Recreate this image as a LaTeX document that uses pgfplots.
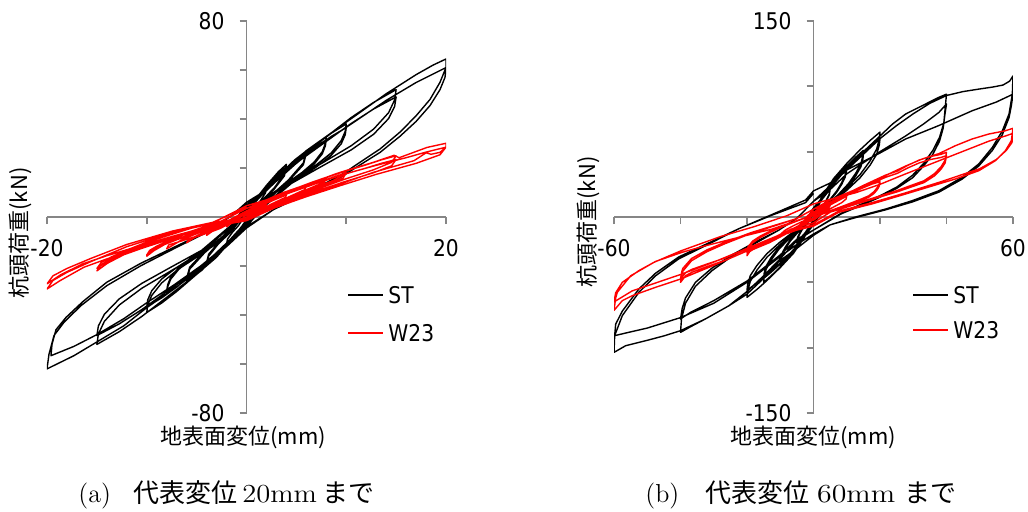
\documentclass[border=0pt]{standalone}
\usepackage{fontspec}
\usepackage{graphicx}
\usepackage{pgfplots}
\pgfplotsset{compat=1.18}
\newfontfamily\tickfont[FakeStretch=0.88]{DejaVu Sans}
\newfontfamily\jp{Noto Sans CJK JP}
\definecolor{axisgray}{HTML}{868686}
\definecolor{w23red}{HTML}{FF0000}

% legend key: a short rule in the series colour, followed by the name
\newcommand\keyline[1]{\textcolor{#1}{\rule[0.33em]{17.5pt}{0.7pt}}\hspace{2.5pt}}

\pgfplotsset{
  hyst/.style={
    scale only axis, width=199.5pt, height=196pt,
    axis lines=middle,
    axis line style={draw=axisgray, line width=0.9pt, -},
    every inner x axis line/.append style={-},
    every inner y axis line/.append style={-},
    tick style={draw=axisgray, line width=0.9pt},
    tick align=outside,
    major tick length=3.5pt,
    ticklabel style={font=\fontsize{11.5}{13}\tickfont, text=black},
    yticklabel style={anchor=east, xshift=-4pt},
    xticklabel style={anchor=north, yshift=-4pt},
  },
}

\begin{document}
\begin{tikzpicture}[x=1pt, y=1pt]
\useasboundingbox (0,0) rectangle (514,255.5);

% (a) cycles up to 20 mm
\begin{axis}[hyst, at={(23.5pt,49pt)}, anchor=south west,
  xmin=-20, xmax=20, ymin=-80, ymax=80,
  xtick={-20,-10,10,20}, xticklabels={-20,,,20},
  ytick={-80,-60,-40,-20,20,40,60,80}, yticklabels={-80,,,,,,,80}]
\addplot[black, line width=0.7pt, line join=round] coordinates {
(0,0)
(0.4,3.7) (1.0,7.2) (1.6,10.3) (2,12) (1.9,9.8) (1.4,6.7) (0.8,3.8) (0,-1) (-0.4,-3.4) (-1.0,-6.6) (-1.6,-9.5) (-2,-11) (-1.9,-9.0) (-1.4,-6.2) (-0.8,-3.5) (0,1.5)
(0.8,6.7) (2,12.9) (3.2,18.5) (4,21.5) (3.8,17.6) (2.8,12.0) (1.6,6.9) (0,-1.5) (-0.8,-6.0) (-2,-11.7) (-3.2,-16.8) (-4,-19.5) (-3.8,-16.0) (-2.8,-10.9) (-1.6,-6.2) (0,2)
(0.8,6.4) (2,12.3) (3.2,17.6) (4,20.5) (3.8,16.8) (2.8,11.5) (1.6,6.6) (0,-1.5) (-0.8,-5.7) (-2,-11.1) (-3.2,-15.9) (-4,-18.5) (-3.8,-15.2) (-2.8,-10.4) (-1.6,-5.9) (0,2)
(1.2,8.4) (3,16.2) (4.8,23.2) (6,27) (5.7,22.1) (4.2,15.1) (2.4,8.6) (0,-2) (-1.2,-8.1) (-3,-15.6) (-4.8,-22.4) (-6,-26) (-5.7,-21.3) (-4.2,-14.6) (-2.4,-8.3) (0,2.5)
(1.2,8.1) (3,15.6) (4.8,22.4) (6,26) (5.7,21.3) (4.2,14.6) (2.4,8.3) (0,-2) (-1.2,-7.8) (-3,-15) (-4.8,-21.5) (-6,-25) (-5.7,-20.5) (-4.2,-14.0) (-2.4,-8.0) (0,2.5)
(0.8,5.9) (2.4,13.7) (4,19.6) (5.6,25.4) (6.8,29.3) (8,32.6) (7.9,30.0) (7.6,26.7) (6.8,22.5) (5.6,18.3) (4,13.7) (2.4,9.1) (0.8,2.5) (0,-2.5) (-0.8,-5.6) (-2.4,-13.0) (-4,-18.6) (-5.6,-24.2) (-6.8,-27.9) (-8,-31) (-7.9,-28.5) (-7.6,-25.4) (-6.8,-21.4) (-5.6,-17.4) (-4,-13.0) (-2.4,-8.7) (-0.8,-2) (0,3.5)
(0.8,5.7) (2.4,13.2) (4,18.9) (5.6,24.6) (6.8,28.4) (8,31.5) (7.9,29.0) (7.6,25.8) (6.8,21.7) (5.6,17.6) (4,13.2) (2.4,8.8) (0.8,2.4) (0,-2.5) (-0.8,-5.4) (-2.4,-12.6) (-4,-18) (-5.6,-23.4) (-6.8,-27) (-8,-30) (-7.9,-27.6) (-7.6,-24.6) (-6.8,-20.7) (-5.6,-16.8) (-4,-12.6) (-2.4,-8.4) (-0.8,-2) (0,3.5)
(1,6.8) (3,16.0) (5,22.8) (7,29.6) (8.5,34.2) (10,38) (9.9,35.0) (9.5,31.2) (8.5,26.2) (7,21.3) (5,16.0) (3,10.6) (1,2.5) (0,-3) (-1,-7.0) (-3,-16.4) (-5,-23.4) (-7,-30.4) (-8.5,-35.1) (-10,-39) (-9.9,-35.9) (-9.5,-32.0) (-8.5,-26.9) (-7,-21.8) (-5,-16.4) (-3,-10.9) (-1,-2.5) (0,4)
(1,6.6) (3,15.3) (5,21.9) (7,28.5) (8.5,32.9) (10,36.5) (9.9,33.6) (9.5,29.9) (8.5,25.2) (7,20.4) (5,15.3) (3,10.2) (1,2.4) (0,-3) (-1,-6.6) (-3,-15.4) (-5,-22.0) (-7,-28.6) (-8.5,-33.0) (-10,-36.7) (-9.9,-33.8) (-9.5,-30.1) (-8.5,-25.3) (-7,-20.6) (-5,-15.4) (-3,-10.3) (-1,-2.4) (0,4)
(1.5,9.4) (4.5,21.8) (7.5,31.2) (10.5,40.6) (12.75,46.8) (15,52) (14.85,47.8) (14.25,42.6) (12.75,35.9) (10.5,29.1) (7.5,21.8) (4.5,14.6) (1.5,3.5) (0,-4) (-1.5,-9.4) (-4.5,-21.8) (-7.5,-31.2) (-10.5,-40.6) (-12.75,-46.8) (-15,-52) (-14.85,-47.8) (-14.25,-42.6) (-12.75,-35.9) (-10.5,-29.1) (-7.5,-21.8) (-4.5,-14.6) (-1.5,-3.5) (0,5)
(1.5,8.8) (4.5,20.6) (7.5,29.4) (10.5,38.2) (12.75,44.1) (15,49) (14.85,45.1) (14.25,40.2) (12.75,33.8) (10.5,27.4) (7.5,20.6) (4.5,13.7) (1.5,3.3) (0,-4) (-1.5,-8.7) (-4.5,-20.3) (-7.5,-29.0) (-10.5,-37.8) (-12.75,-43.6) (-15,-48.4) (-14.85,-44.5) (-14.25,-39.7) (-12.75,-33.4) (-10.5,-27.1) (-7.5,-20.3) (-4.5,-13.6) (-1.5,-3.2) (0,5)
(2,11.6) (6,27.1) (10,38.7) (14,50.3) (17,58.1) (18.7,62) (20,64.5) (20,61) (19.4,55) (18.4,48) (17,41.3) (15.4,34.7) (13.4,27.8) (11.4,22.4) (9.4,16.9) (7.4,12.8) (5.4,8.7) (2.7,3) (0,-4.5) (-1.9,-11.7) (-4.6,-21.2) (-7.3,-29.4) (-10,-37) (-12.3,-44.4) (-15,-51) (-17.3,-56.6) (-20,-62) (-19.8,-56) (-19.3,-48.4) (-18.3,-43) (-16.6,-36.2) (-14,-28) (-10.6,-19.9) (-7.3,-13) (-4,-6.3) (-1.5,0.5) (0,6)
(2,11.0) (6,25.6) (10,36.6) (14,47.6) (17,54.9) (20,61) (19.9,57) (19.4,52) (18.4,45.5) (17,39) (15.4,33) (13.4,26.4) (11.4,21.3) (9.4,16.1) (7.4,12.2) (5.4,8.3) (2.7,3) (0,-4) (-1.9,-11) (-4.6,-20) (-7.3,-27.8) (-10,-35) (-12.3,-41.5) (-15,-48) (-17.3,-52.8) (-19.6,-56.6) (-19.5,-52) (-19.1,-46) (-18.1,-41) (-16.4,-34.5) (-14,-26.6) (-10.6,-18.9) (-7.3,-12.4) (-4,-6) (-1.5,0.5) (0,5.5)
};
\addplot[w23red, line width=0.7pt, line join=round] coordinates {
(0,0)
(0.4,1.7) (1,3.1) (1.6,4.3) (2,5) (1.9,4.4) (1.3,3.1) (0.6,1.5) (0,-0.3) (-0.4,-0.6) (-1,-1.6) (-1.6,-2.8) (-2,-4) (-1.9,-3.4) (-1.2,-1.9) (-0.4,-0.5) (0,1)
(0.8,3) (2,5.6) (3.2,7.7) (4,9) (3.9,8) (2.6,5.5) (1.2,2.6) (0,-0.5) (-0.8,-1.1) (-2,-3) (-3.2,-5.2) (-4,-7.5) (-3.9,-6.6) (-2.6,-4.6) (-1.2,-1.5) (0,1.5)
(1.2,4.1) (3,7.8) (4.8,10.6) (6,12.5) (5.8,11.1) (3.9,7.6) (1.8,3.6) (0,-0.5) (-1.2,-1.6) (-3,-4.2) (-4.8,-7.3) (-6,-10.5) (-5.8,-9.2) (-3.9,-6.5) (-1.8,-2.2) (0,1.5)
(1.6,5.3) (4,9.9) (6.4,13.6) (8,16) (7.8,14.2) (5.2,9.8) (2.4,4.6) (0,-0.5) (-1.6,-2) (-4,-5.2) (-6.4,-9.1) (-8,-13) (-7.8,-11.4) (-5.2,-8.1) (-2.4,-2.7) (0,2)
(2,6.3) (3.5,9.1) (5,11.8) (6.5,14.1) (8,16.2) (9,17.7) (10,19) (9.7,16.9) (8.5,14.6) (6.5,11.6) (4.7,8.6) (3,5.5) (1.4,2.5) (0,-0.8) (-2,-2.4) (-3.5,-4.3) (-5,-6.4) (-7,-9.3) (-8.2,-11.2) (-9.3,-13.8) (-10,-16) (-9.7,-14.1) (-9,-12.3) (-7.8,-9.9) (-6,-6.6) (-3.7,-3.4) (-1.7,-1.3) (0,2.5)
(2,5.9) (3.5,8.6) (5,11.2) (6.5,13.3) (8,15.3) (9,16.7) (10,18) (9.7,16) (8.5,13.9) (6.5,11) (4.7,8.1) (3,5.2) (1.4,2.3) (0,-0.8) (-2,-2.3) (-3.5,-4.2) (-5,-6.2) (-7,-9) (-8.2,-10.9) (-9.3,-13.3) (-10,-15.5) (-9.7,-13.6) (-9,-11.9) (-7.8,-9.6) (-6,-6.4) (-3.7,-3.3) (-1.7,-1.2) (0,2.5)
(3,8.3) (5.25,12) (7.5,15.5) (9.75,18.5) (12,21.3) (13.5,23.3) (15,25) (14.55,22.3) (12.75,19.3) (9.75,15.3) (7.05,11.3) (4.5,7.3) (2.1,3.3) (0,-1) (-3,-3.3) (-5.25,-5.9) (-7.5,-8.8) (-10.5,-12.8) (-12.3,-15.4) (-13.95,-18.9) (-15,-22) (-14.55,-19.4) (-13.5,-16.9) (-11.7,-13.6) (-9,-9) (-5.55,-4.6) (-2.55,-1.8) (0,3.5)
(3,7.8) (5.25,11.3) (7.5,14.6) (9.75,17.4) (12,20) (13.5,21.9) (15,23.5) (14.55,20.9) (12.75,18.1) (9.75,14.3) (7.05,10.6) (4.5,6.8) (2.1,3.1) (0,-1) (-3,-3.2) (-5.25,-5.7) (-7.5,-8.4) (-10.5,-12.2) (-12.3,-14.7) (-13.95,-18.1) (-15,-21) (-14.55,-18.5) (-13.5,-16.2) (-11.7,-13) (-9,-8.6) (-5.55,-4.4) (-2.55,-1.7) (0,3.5)
(3.7,10) (7.1,14.8) (10,19) (12.7,22.3) (14.8,25.2) (15.3,24.2) (18.1,28.4) (20,30.1) (20,28.5) (19.4,26.4) (18.5,25.6) (18,26.2) (16.8,23) (12.7,18.2) (9.4,13.5) (6.1,8.7) (2.7,4) (0,-1.5) (-3.9,-4.2) (-7.3,-8.3) (-10.6,-12.4) (-14,-17.1) (-16.3,-20.5) (-18.7,-26) (-20,-29.4) (-19.4,-25.9) (-18,-22.6) (-15.6,-18.2) (-12,-12.1) (-7.4,-6.2) (-3.4,-2.4) (0,4.6)
(4,9.4) (7,13.7) (10,17.7) (13,21.1) (16,24.2) (18,26.5) (20,28.5) (19.4,25.4) (17,21.9) (13,17.4) (9.4,12.8) (6,8.3) (2.8,3.7) (0,-1.5) (-4,-4.1) (-7,-7.4) (-10,-10.9) (-14,-15.8) (-16.4,-19.1) (-18.6,-23.5) (-20,-27.3) (-19.4,-24) (-18,-21) (-15.6,-16.9) (-12,-11.2) (-7.4,-5.7) (-3.4,-2.2) (0,4)
};
\end{axis}

% (b) cycles up to 60 mm
\begin{axis}[hyst, at={(307pt,49pt)}, anchor=south west,
  xmin=-60, xmax=60, ymin=-150, ymax=150,
  xtick={-60,-40,-20,20,40,60}, xticklabels={-60,,,,,60},
  ytick={-150,-100,-50,50,100,150}, yticklabels={-150,,,,,150}]
\addplot[black, line width=0.7pt, line join=round] coordinates {
(0,0)
(1,7.3) (2.5,13.9) (4,18.9) (5,22) (4.75,17.6) (3.5,11) (2,5.7) (0,-1.5) (-1,-6.6) (-2.5,-12.6) (-4,-17.2) (-5,-20) (-4.75,-16) (-3.5,-10) (-2,-5.2) (0,2)
(1,6.9) (2.5,13.2) (4,18.1) (5,21) (4.75,16.8) (3.5,10.5) (2,5.5) (0,-1.5) (-1,-6.3) (-2.5,-12) (-4,-16.3) (-5,-19) (-4.75,-15.2) (-3.5,-9.5) (-2,-4.9) (0,2)
(1,8) (3,18) (5,25.2) (7,31.6) (8.5,36) (10,40) (9.9,36.8) (9.5,32) (8.5,26.4) (7,20) (5,13.6) (3,8) (1,2.4) (0,-3) (-1,-7.4) (-3,-16.7) (-5,-23.3) (-7,-29.2) (-8.5,-33.3) (-10,-37) (-9.9,-34) (-9.5,-29.6) (-8.5,-24.4) (-7,-18.5) (-5,-12.6) (-3,-7.4) (-1,-2.2) (0,3)
(1,7.6) (3,17.1) (5,23.9) (7,30) (8.5,34.2) (10,38) (9.9,35) (9.5,30.4) (8.5,25.1) (7,19) (5,12.9) (3,7.6) (1,2.3) (0,-3) (-1,-7) (-3,-15.8) (-5,-22.1) (-7,-27.7) (-8.5,-31.5) (-10,-35) (-9.9,-32.2) (-9.5,-28) (-8.5,-23.1) (-7,-17.5) (-5,-11.9) (-3,-7) (-1,-2.1) (0,3)
(1.5,10.2) (4.5,23) (7.5,32.1) (10.5,40.3) (12.75,45.9) (15,51) (14.85,46.9) (14.25,40.8) (12.75,33.7) (10.5,25.5) (7.5,17.3) (4.5,10.2) (1.5,3.1) (0,-4) (-1.5,-10) (-4.5,-22.5) (-7.5,-31.5) (-10.5,-39.5) (-12.75,-45) (-15,-50) (-14.85,-46) (-14.25,-40) (-12.75,-33) (-10.5,-25) (-7.5,-17) (-4.5,-10) (-1.5,-3) (0,5)
(1.5,9.6) (4.5,21.6) (7.5,30.2) (10.5,37.9) (12.75,43.2) (15,48) (14.85,44.2) (14.25,38.4) (12.75,31.7) (10.5,24) (7.5,16.3) (4.5,9.6) (1.5,2.9) (0,-4) (-1.5,-9.4) (-4.5,-21.2) (-7.5,-29.6) (-10.5,-37.1) (-12.75,-42.3) (-15,-47) (-14.85,-43.2) (-14.25,-37.6) (-12.75,-31) (-10.5,-23.5) (-7.5,-16) (-4.5,-9.4) (-1.5,-2.8) (0,5)
(2,13) (6,29.3) (10,41) (14,51.4) (17,58.5) (20,65) (19.8,59.8) (19,52) (17,42.9) (14,32.5) (10,22.1) (6,13) (2,2) (0,-6) (-2,-12.3) (-6,-27.7) (-10,-38.7) (-14,-48.6) (-17,-55.4) (-20,-61.5) (-19.8,-56.6) (-19,-49.2) (-17,-40.6) (-14,-30.8) (-10,-20.9) (-6,-12.3) (-2,-1.5) (0,7)
(2,12) (6,27) (10,37.8) (14,47.4) (17,54) (20,60) (19.8,55.2) (19,48) (17,39.6) (14,30) (10,20.4) (6,12) (2,2) (0,-6) (-2,-11.2) (-6,-25.2) (-10,-35.3) (-14,-44.2) (-17,-50.4) (-20,-56) (-19.8,-51.5) (-19,-44.8) (-17,-37) (-14,-28) (-10,-19) (-6,-11.2) (-2,-1.5) (0,7)
(5,22) (10,37) (15,50) (20,62) (23.7,71) (27.7,78.8) (32.7,85.2) (37.7,91.6) (40,94) (39.7,86) (39.2,72) (37.9,61) (35.9,51) (33.1,41) (29.8,32) (25.1,23) (19.8,16) (14.5,10) (8.4,3) (0,-10) (-5,-18) (-10.4,-33) (-15,-45) (-20,-57) (-25.5,-68) (-32.5,-78) (-37,-84) (-40,-88.3) (-39.7,-78) (-38.5,-66) (-35.5,-53) (-30.5,-41) (-24.5,-30) (-17.4,-20) (-10.4,-10) (-5,-1) (0,12)
(5,21) (10,33) (20,50) (27.7,62) (33,71) (37.7,80) (40,86.5) (39.5,78) (39,68) (37.9,58) (35.9,48) (33.1,39) (29.8,30) (25.1,22) (19.8,15) (14.5,9) (8.4,2.5) (0,-10) (-5,-17) (-10,-29) (-20,-49) (-30,-64) (-37,-73) (-40,-78) (-39.5,-70) (-38.5,-62) (-35.5,-50) (-30.5,-39) (-24.5,-29) (-17.4,-19) (-10.4,-10) (-5,-1) (0,12)
(5,24) (10,36) (15,48) (20,60) (25,70) (30,79) (35,87) (40,93) (45,96) (50,98) (54,99.5) (57,101) (59,104) (60,108) (59.8,94) (58.8,78.8) (56.8,66) (53.8,53.3) (49.7,40.6) (44.7,30.4) (37.7,20.1) (29.7,12.5) (21.7,6.1) (12.6,0) (5,-6) (0,-14) (-5,-24) (-10.4,-34) (-15,-47) (-20,-59) (-25.5,-68) (-32.5,-78) (-40,-87) (-45,-91) (-50.5,-94.7) (-56.5,-98.5) (-60,-103.6) (-59.8,-90.8) (-57.5,-75.5) (-52.5,-57.6) (-47.5,-45) (-40.5,-32) (-32.5,-22) (-22.5,-9) (-12.4,2) (-2.4,13) (0,20)
(5,26) (10,36) (20,49) (27.7,59.7) (37.7,70) (47.7,81.3) (55,88) (60,94) (59.5,85) (58.8,76) (56.8,63) (53.8,51) (49.7,39) (44.7,29) (37.7,19) (29.7,11.5) (21.7,5.5) (12.6,-0.5) (5,-6) (0,-13) (-5,-21) (-10.4,-31) (-20,-50) (-30,-66) (-40,-77) (-50,-85) (-56,-88.5) (-59.8,-90.8) (-59.5,-82) (-57.5,-72) (-52.5,-55) (-47.5,-43) (-40.5,-30.5) (-32.5,-21) (-22.5,-9) (-12.4,1.5) (-2.4,11) (0,18)
};
\addplot[w23red, line width=0.7pt, line join=round] coordinates {
(0,0)
(1,2.8) (2.5,4.9) (4,7.3) (5,9) (4.8,7.6) (3.5,5.3) (1.5,2) (0,-1) (-1,-1.8) (-2.5,-3.9) (-4,-6.3) (-5,-8.5) (-4.8,-7.2) (-3.5,-4.9) (-1.5,-1.6) (0,1.5)
(1,3.5) (3,6.5) (5,9.2) (7,11.9) (9,14.6) (10,16) (9.8,13.8) (8.5,11) (6,7.6) (3,3.6) (0,-1.5) (-1,-2.5) (-3,-4.7) (-5,-7.4) (-7,-10) (-9,-12.8) (-10,-15) (-9.8,-12.9) (-8.5,-10) (-6,-6.6) (-3,-3) (0,2.5)
(1.7,5.5) (4.2,9) (7.6,14.2) (10.9,18.9) (14.2,23.2) (17.6,27.1) (20,29) (19.8,25.5) (19.2,22.6) (18.2,19.4) (16.6,16.2) (14.2,13.6) (9.2,8.7) (5.8,5.5) (2.5,2.3) (0,-2.5) (-1.7,-3.8) (-3.3,-5.8) (-6.7,-10.8) (-10,-15.3) (-13.3,-19.7) (-15.8,-22.3) (-18.2,-24.9) (-19.2,-26.5) (-20,-29.6) (-19.8,-26) (-19.7,-24.6) (-18.3,-19.8) (-16,-15.7) (-13.3,-12.1) (-9.3,-7.4) (-6,-4.1) (-2.7,-0.9) (0,3.5)
(1.7,5.4) (4.2,8.4) (7.6,13.2) (10.9,17.6) (14.2,21.6) (17.6,25.2) (20,27) (19.8,23.7) (19.2,21) (18.2,18) (16.6,15.1) (14.2,12.6) (9.2,8.1) (5.8,5.1) (2.5,2.1) (0,-2.5) (-1.7,-3.6) (-3.3,-5.4) (-6.7,-10) (-10,-14.2) (-13.3,-18.3) (-15.8,-20.7) (-18.2,-23.2) (-19.2,-24.6) (-20,-27.5) (-19.8,-24.2) (-19.7,-22.9) (-18.3,-18.4) (-16,-14.6) (-13.3,-11.2) (-9.3,-6.9) (-6,-3.8) (-2.7,-0.8) (0,3.5)
(3.3,9.4) (8.4,15.3) (11.8,19.8) (15.1,24.3) (18.4,28.2) (21.8,32.2) (25.2,35.1) (28.4,39.6) (31.8,43.6) (35.2,46.3) (38.4,48) (40,49.5) (39.6,43.6) (38.4,38.6) (36.4,33.2) (33.2,27.7) (28.4,23.3) (25.2,20.3) (18.4,14.9) (11.6,9.4) (5.1,4) (0,-4.5) (-3.3,-6.5) (-6.7,-9.8) (-13.3,-18.2) (-20,-25.9) (-26.7,-33.2) (-31.6,-37.6) (-36.4,-42.1) (-38.4,-44.8) (-40,-50) (-39.6,-44) (-39.3,-41.5) (-36.7,-33.5) (-32,-26.5) (-26.7,-20.5) (-18.7,-12.5) (-12,-7) (-5.3,-1.5) (0,6)
(3.3,9) (8.4,14.5) (11.8,18.8) (15.1,23) (18.4,26.8) (21.8,30.5) (25.2,33.4) (28.4,37.6) (31.8,41.4) (35.2,44) (38.4,45.6) (40,47) (39.6,41.4) (38.4,36.7) (36.4,31.5) (33.2,26.3) (28.4,22.1) (25.2,19.3) (18.4,14.1) (11.6,8.9) (5.1,3.8) (0,-4.5) (-3.3,-6.2) (-6.7,-9.3) (-13.3,-17.3) (-20,-24.5) (-26.7,-31.5) (-31.6,-35.6) (-36.4,-39.9) (-38.4,-42.4) (-40,-47.4) (-39.6,-41.7) (-39.3,-39.3) (-36.7,-31.8) (-32,-25.1) (-26.7,-19.4) (-18.7,-11.9) (-12,-6.6) (-5.3,-1.4) (0,6)
(5,13) (12.6,21) (17.7,27) (22.7,33) (27.7,39) (32.7,44.4) (37.7,48.5) (42.7,54.6) (47.7,59.7) (52.7,63.5) (57.7,66) (60,67.9) (59.5,58.4) (57.7,50.7) (54.7,43.1) (49.7,35.4) (42.7,29.1) (37.7,25.3) (27.7,17.6) (17.6,10) (7.6,3.6) (0,-7) (-5,-10) (-10,-14.5) (-20,-26) (-30,-37) (-40,-47.5) (-47.5,-53.8) (-54.5,-60.2) (-57.5,-64) (-60,-71.5) (-59.5,-62) (-59,-57.6) (-55,-45) (-48,-34.7) (-40,-26) (-28,-15) (-18,-7.5) (-8,1) (0,10)
(5,13.5) (12.6,18.5) (20,25) (27.7,33) (37.7,43) (42.7,48) (47.7,53) (52.7,58) (57.7,62) (60,64) (59.7,57) (58,51) (55,44) (50,37) (43,31) (37.7,26.5) (27.7,18.5) (17.6,11) (7.6,4.5) (0,-6) (-5,-9) (-10,-13.5) (-20,-24) (-30,-34.5) (-40,-44) (-47.5,-50.5) (-54.5,-56.5) (-60,-65) (-59.5,-58) (-57.5,-50) (-52.5,-41) (-47.5,-34) (-39.5,-27) (-32.5,-22) (-22.5,-15.6) (-12.4,-9.2) (-2.4,-0.5) (0,5)
};
\end{axis}

% legends
\begin{scope}[every node/.style={anchor=west, inner sep=0pt, font=\fontsize{11.5}{13}\tickfont}]
\node at (174,108) {\keyline{black}ST};
\node at (174,89) {\keyline{w23red}W23};
\node at (456.5,108) {\keyline{black}ST};
\node at (456.5,90.5) {\keyline{w23red}W23};
\end{scope}

% axis titles
\node[rotate=90, font=\fontsize{11}{13}\jp] at (10,139) {杭頭荷重(kN)};
\node[rotate=90, font=\fontsize{11}{13}\jp] at (294,144.5) {杭頭荷重(kN)};
\node[font=\fontsize{11}{13}\jp] at (121.5,37) {地表面変位(mm)};
\node[font=\fontsize{11}{13}\jp] at (406.5,37) {地表面変位(mm)};

% sub-captions
\node[anchor=west, font=\fontsize{13}{15}\selectfont, inner sep=0pt] at (39,8)
  {(a)\hspace{0.85em}{\jp 代表変位}\hspace{0.2em}\scalebox{1.1}[1]{20mm}\hspace{0.2em}{\jp まで}};
\node[anchor=west, font=\fontsize{13}{15}\selectfont, inner sep=0pt] at (322.5,8)
  {(b)\hspace{1em}{\jp 代表変位}\hspace{0.3em}\scalebox{1.15}[1]{60mm}\hspace{0.35em}{\jp まで}};
\end{tikzpicture}
\end{document}
